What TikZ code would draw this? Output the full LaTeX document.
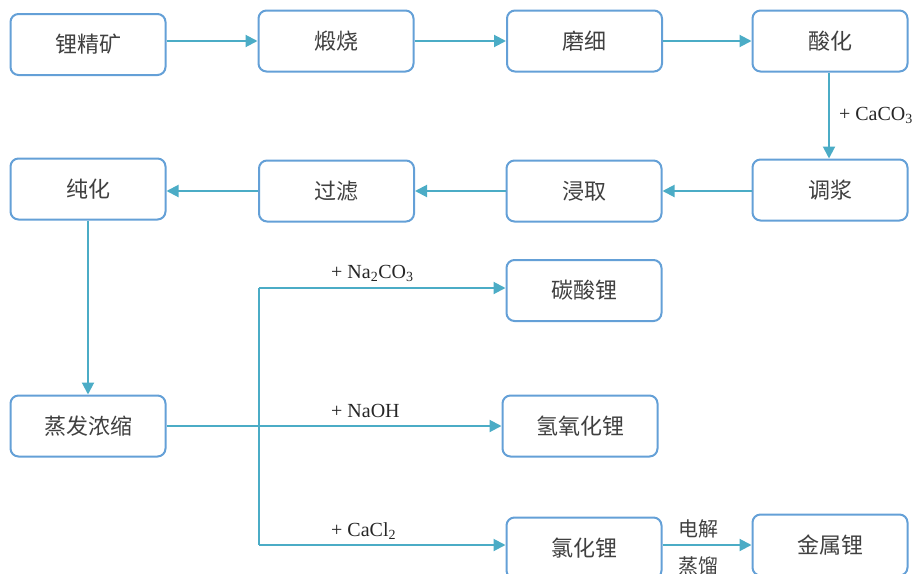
\documentclass[tikz,border=0pt]{standalone}
\usepackage{fontspec}
\setmainfont{Liberation Serif}
\newfontfamily\cjk{Noto Sans CJK SC}
\usetikzlibrary{arrows.meta}
\definecolor{boxblue}{RGB}{100,160,215}
\definecolor{arrteal}{RGB}{75,172,198}
\definecolor{txtgray}{RGB}{64,64,64}
\tikzset{
  procbox/.style={draw=boxblue, line width=2pt, rounded corners=8pt, fill=white,
    minimum width=155pt, minimum height=61pt, inner sep=0pt,
    font=\cjk\fontsize{22}{26}\selectfont, text=txtgray},
  flow/.style={draw=arrteal, line width=2pt, -{Triangle[length=12pt,width=12pt]}},
  plainline/.style={draw=arrteal, line width=2pt},
  reagent/.style={font=\fontsize{20}{23}\selectfont, text=black!85, inner sep=0pt},
  cjklabel/.style={font=\cjk\fontsize{20}{23}\selectfont, text=txtgray, inner sep=0pt}
}
\begin{document}
\begin{tikzpicture}[x=1pt,y=-1pt]
\useasboundingbox (0,0) rectangle (917,573);
% row 1
\node[procbox] (a1) at (88,44.5) {锂精矿};
\node[procbox] (a2) at (336,41) {煅烧};
\node[procbox] (a3) at (584.5,41) {磨细};
\node[procbox] (a4) at (830,41) {酸化};
% row 2
\node[procbox] (b4) at (830,190) {调浆};
\node[procbox] (b3) at (584,191) {浸取};
\node[procbox] (b2) at (336.5,191) {过滤};
\node[procbox] (b1) at (88,189) {纯化};
% lower
\node[procbox] (c1) at (88,426) {蒸发浓缩};
\node[procbox] (d1) at (584,290.5) {碳酸锂};
\node[procbox] (d2) at (580,426) {氢氧化锂};
\node[procbox] (d3) at (584,548) {氯化锂};
\node[procbox] (d4) at (830,545) {金属锂};
% arrows row 1
\draw[flow] (a1.east |- 0,41) -- (a2.west |- 0,41);
\draw[flow] (a2) -- (a3);
\draw[flow] (a3) -- (a4);
\draw[flow] (a4.south -| 829,0) -- (b4.north -| 829,0) node[reagent, midway, right=9pt] {+ CaCO\textsubscript{3}};
% row 2
\draw[flow] (b4.west |- 0,191) -- (b3.east |- 0,191);
\draw[flow] (b3) -- (b2);
\draw[flow] (b2.west |- 0,191) -- (b1.east |- 0,191);
\draw[flow] (b1.south) -- (c1.north);
% branches
\coordinate (jt) at (259,288);
\coordinate (jb) at (259,545);
\draw[plainline] (jt) -- (jb);
\draw[flow] (c1.east) -- (d2.west |- c1.east);
\node[reagent, anchor=south west] (l2) at (331,418) {+ NaOH};
\draw[flow] (jt) -- (d1.west |- jt);
\node[reagent, anchor=south west] (l1) at (331,282) {+ Na\textsubscript{2}CO\textsubscript{3}};
\draw[flow] (jb) -- (d3.west |- jb);
\node[reagent, anchor=south west] (l3) at (331,540) {+ CaCl\textsubscript{2}};
\draw[flow] (d3.east |- d4.west) -- (d4.west);
\node[cjklabel] (e1) at (698,529) {电解};
\node[cjklabel] (e2) at (698,566) {蒸馏};
\end{tikzpicture}
\end{document}
